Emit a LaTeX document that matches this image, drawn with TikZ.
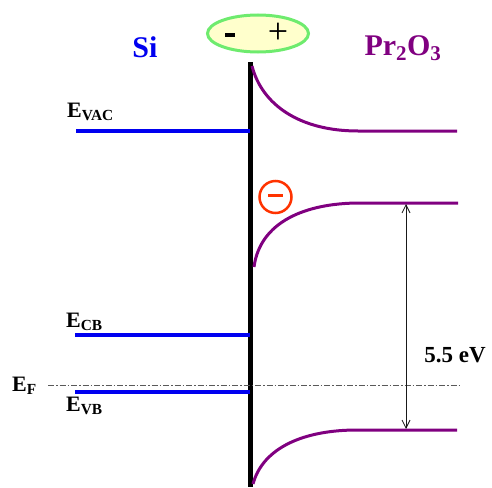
\documentclass[tikz,border=0pt]{standalone}
\usepackage{fontspec}
\setmainfont{Liberation Serif}
\usetikzlibrary{shapes.geometric,arrows.meta}
\definecolor{siblue}{RGB}{0,0,240}
\definecolor{oxpurple}{RGB}{128,0,128}
\definecolor{chargered}{RGB}{255,51,0}
\definecolor{dipolefill}{RGB}{255,255,204}
\definecolor{dipoleline}{RGB}{110,235,110}
\tikzset{
  lvl/.style={siblue,line width=4pt},
  band/.style={oxpurple,line width=3pt},
  lbl/.style={font=\fontsize{22}{24}\selectfont\bfseries,inner sep=0pt},
  side/.style={font=\fontsize{30}{32}\selectfont\bfseries,inner sep=0pt},
}
\begin{document}
\begin{tikzpicture}[x=1pt,y=-1pt,>=Stealth]
  \useasboundingbox (0,0) rectangle (492,487);
  % interface
  \coordinate (top) at (250,62);
  \coordinate (bot) at (250,487);
  \draw[line width=5pt] (top) -- (bot);
  % dipole
  \node[ellipse,draw=dipoleline,fill=dipolefill,line width=3pt,
        minimum width=101pt,minimum height=37pt] (dipole) at (258,33.5) {};
  \node[inner sep=0pt,fill=black,minimum width=10pt,minimum height=4pt] (minus) at (230,35) {};
  \node[side,font=\fontsize{36}{36}\selectfont] (plus) at (278,33) {+};
  % materials
  \node[side,text=siblue] (si) at (145,47) {Si};
  \node[side,text=oxpurple] (ox) at (403,48) {Pr\textsubscript{2}O\textsubscript{3}};
  % Si levels
  \coordinate (vacL) at (76,131);  \coordinate (vacR) at (250,131);
  \coordinate (cbL) at (75,335);   \coordinate (cbR) at (250,335);
  \coordinate (vbL) at (75,392);   \coordinate (vbR) at (250,392);
  \draw[lvl] (vacL) -- (vacR);
  \draw[lvl] (cbL) -- (cbR);
  \draw[lvl] (vbL) -- (vbR);
  \node[lbl,anchor=base west] (evac) at (67,117) {E\textsubscript{VAC}};
  \node[lbl,anchor=base west] (ecb) at (66,327) {E\textsubscript{CB}};
  \node[lbl,anchor=base west] (evb) at (66,411) {E\textsubscript{VB}};
  \node[lbl,anchor=base west] (ef) at (12,391) {E\textsubscript{F}};
  % Fermi level
  \coordinate (fL) at (48,385);
  \coordinate (fR) at (460,385);
  \draw[gray!70!black,line width=0.8pt,dash pattern=on 6pt off 2pt on 1.5pt off 2pt] (fL) -- (fR);
  % oxide bands
  \coordinate (vacO) at (358,131);  \coordinate (vacE) at (457,131);
  \coordinate (cbO) at (360,203);   \coordinate (cbE) at (458,203);
  \coordinate (vbO) at (357,430);   \coordinate (vbE) at (457,430);
  \draw[band] (252,66) .. controls (262,105) and (300,131) .. (vacO) -- (vacE);
  \draw[band] (254,267) .. controls (260,222) and (305,203) .. (cbO) -- (cbE);
  \draw[band] (253,484) .. controls (263,447) and (305,430) .. (vbO) -- (vbE);
  % gap
  \coordinate (gapT) at (406,204);
  \coordinate (gapB) at (406,429);
  \draw[<->,gray!20!black,line width=0.8pt,>={Straight Barb[length=8pt,width=8pt]}] (gapT) -- (gapB);
  \node[lbl,anchor=base,font=\fontsize{23}{24}\selectfont\bfseries] (gap) at (455,362) {5.5 eV};
  % trapped charge
  \node[circle,draw=chargered,line width=2.5pt,minimum size=32pt,inner sep=0pt] (charge) at (275.5,197)
    {\textcolor{chargered}{\rule[2.5pt]{15pt}{3.2pt}}};
\end{tikzpicture}
\end{document}
